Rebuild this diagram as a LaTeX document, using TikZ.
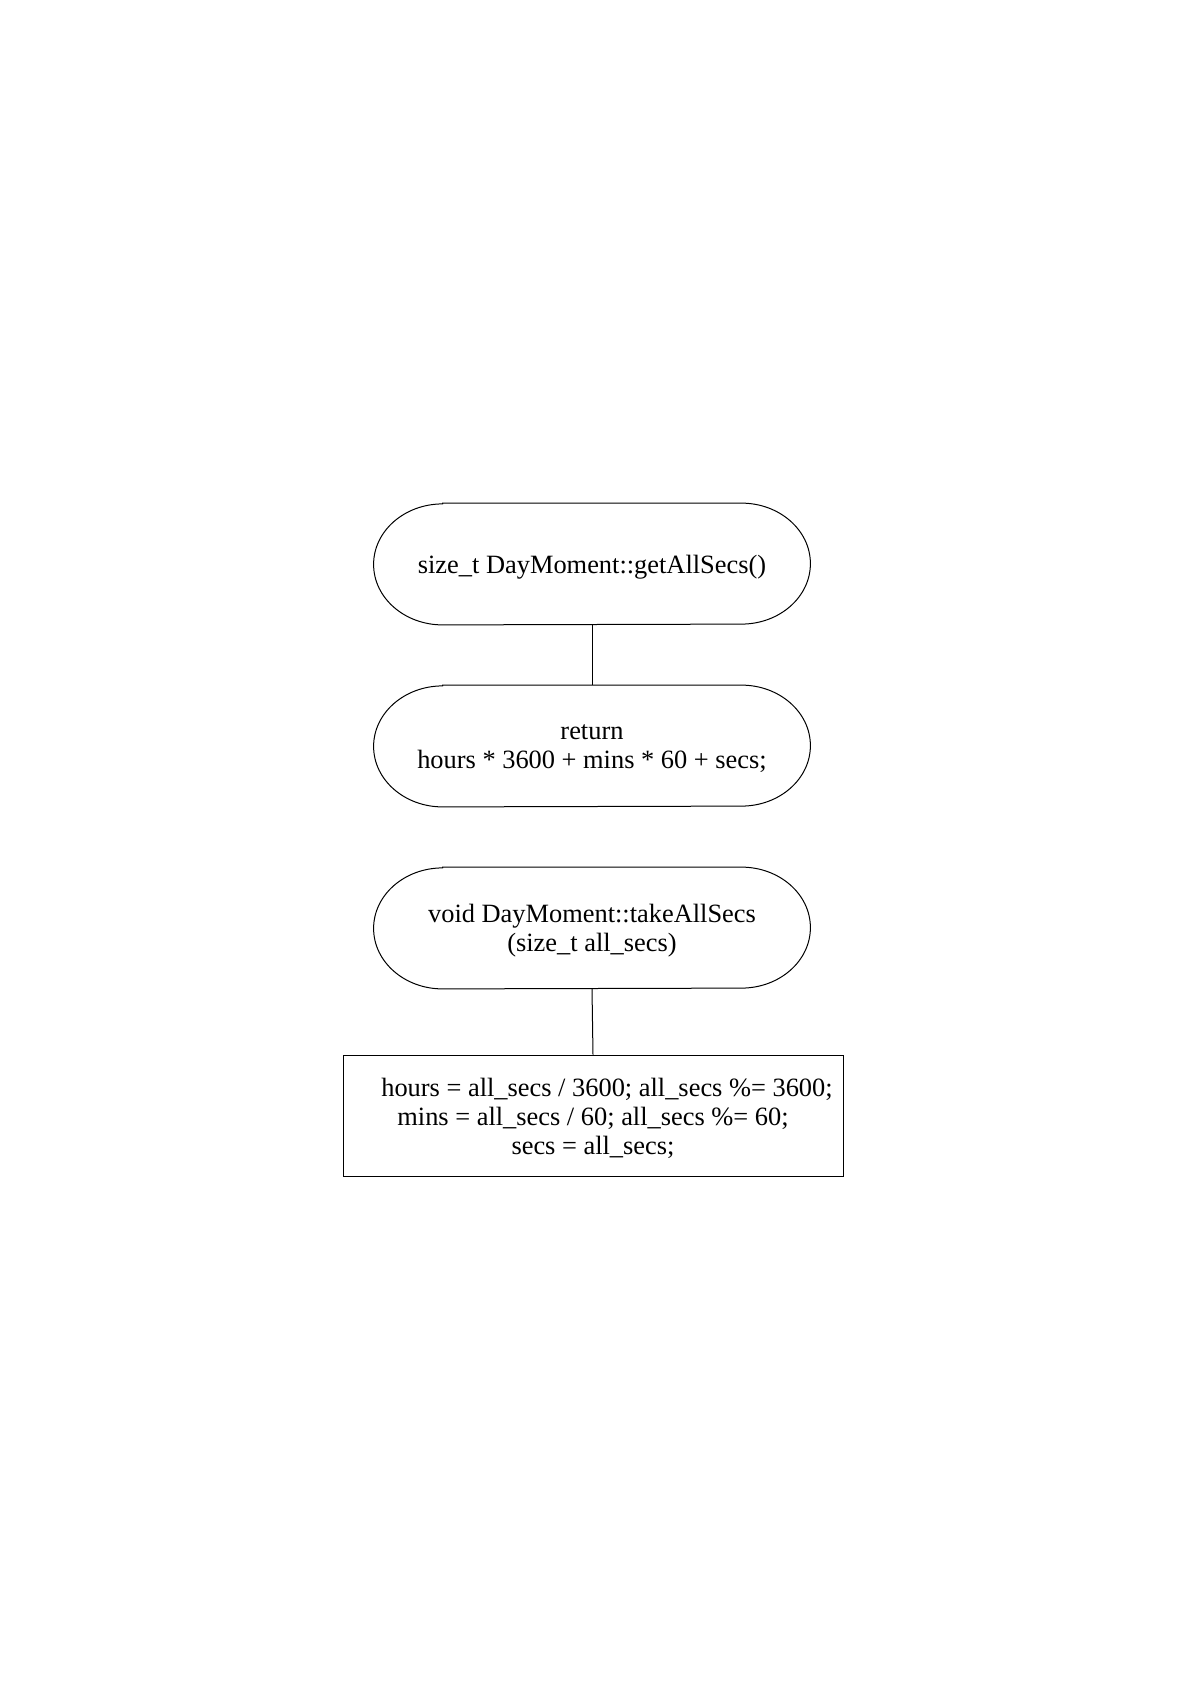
\documentclass[tikz,border=0pt]{standalone}
\usepackage{fontspec}
\setmainfont{Liberation Serif}
\begin{document}
\begin{tikzpicture}[x=0.5pt,y=-0.5pt,
  conn/.style={line width=0.5pt,draw=black},
  termshape/.style={minimum width=218pt,minimum height=60.5pt,inner sep=0pt},
  procbox/.style={draw=black,line width=0.5pt,minimum width=250pt,minimum height=60.5pt,inner sep=0pt},
  label text/.style={inner sep=0pt,align=center,font=\fontsize{13.2pt}{14.5pt}\selectfont}]
\newcommand\stadium[1]{\draw[conn] ([xshift=34.5pt]#1.north west) -- ([xshift=-34.5pt]#1.north east)
  arc[start angle=90,end angle=-90,x radius=34.5pt,y radius=30.25pt]
  -- ([xshift=34.5pt]#1.south west)
  arc[start angle=270,end angle=90,x radius=34.5pt,y radius=30.25pt] -- cycle;}
\useasboundingbox (0,0) rectangle (1190,1683);
\fill[white] (0,0) rectangle (1190,1683);
\node[termshape] (e1) at (592,564) {};
\node[termshape] (e2) at (592,746) {};
\node[termshape] (e3) at (592,928) {};
\node[procbox] (r1) at (593,1115.5) {};
\node[label text] (t1) at ([yshift=-1.5pt]e1.center) {size\_t DayMoment::getAllSecs()};
\node[label text] (t2) at ([yshift=-1.5pt]e2.center) {return\\hours * 3600 + mins * 60 + secs;};
\node[label text] (t3) at ([yshift=-1.5pt]e3.center) {void DayMoment::takeAllSecs\\(size\_t all\_secs)};
\node[label text] (t4) at ([yshift=-1.5pt]r1.center) {\hspace*{14pt}hours = all\_secs / 3600; all\_secs \%= 3600;\\mins = all\_secs / 60; all\_secs \%= 60;\\secs = all\_secs;};
\stadium{e1}
\stadium{e2}
\stadium{e3}
\draw[conn] (e1.south) -- (e2.north);
\draw[conn] (e3.south) -- (r1.north);
\end{tikzpicture}
\end{document}
